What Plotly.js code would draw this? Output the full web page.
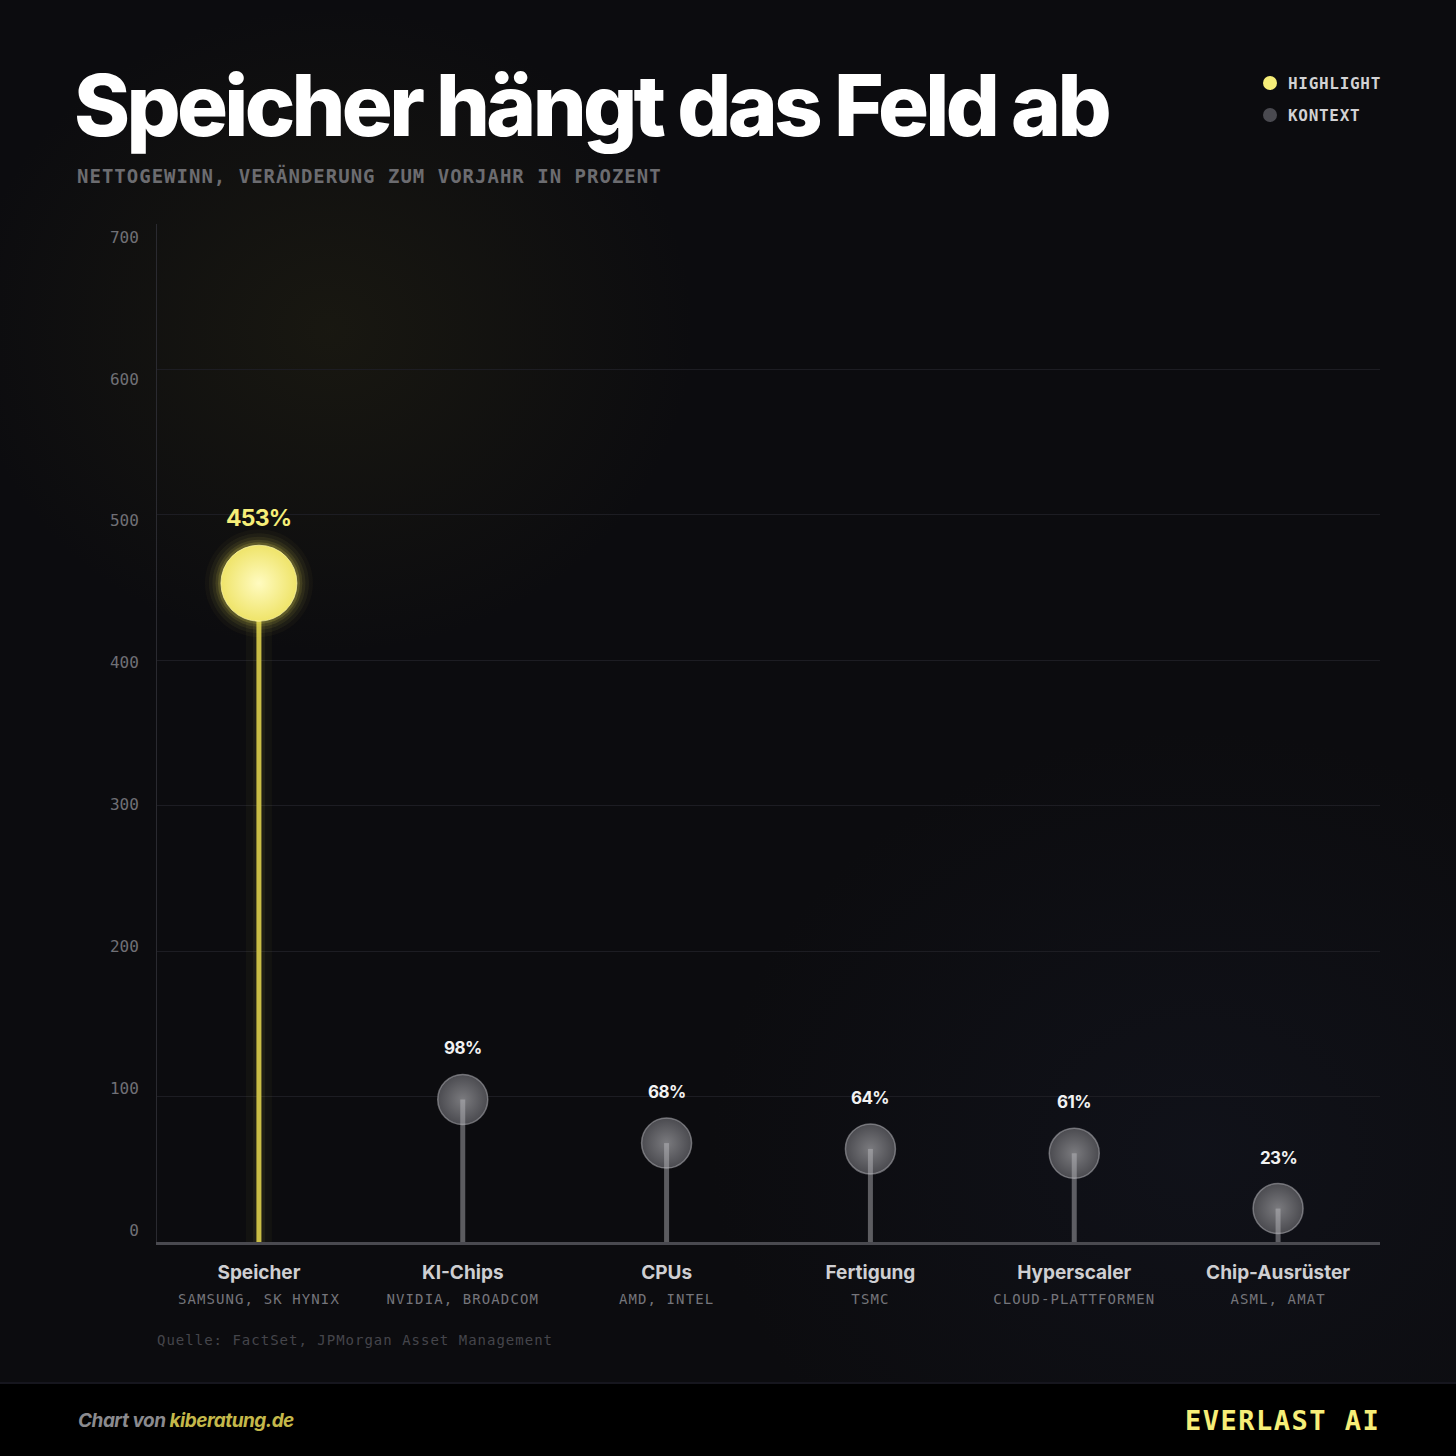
<!DOCTYPE html>
<html>
<head>
<meta charset="utf-8">
<script src="https://cdn.plot.ly/plotly-3.0.1.min.js"></script>
<style>
  html, body { margin: 0; padding: 0; }
  body {
    width: 1456px; height: 1456px; overflow: hidden;
    background:
      radial-gradient(ellipse 520px 460px at 330px 330px, rgba(60,56,22,0.26), rgba(0,0,0,0) 70%),
      radial-gradient(ellipse 700px 600px at 1200px 1150px, rgba(24,28,44,0.35), rgba(0,0,0,0) 70%),
      #0c0c0f;
  }
  #chart { width: 1456px; height: 1456px; }
</style>
</head>
<body>
<div id="chart"></div>
<script>
// ---- data ----
const categories = ['Speicher', 'KI-Chips', 'CPUs', 'Fertigung', 'Hyperscaler', 'Chip-Ausrüster'];
const companies  = ['SAMSUNG, SK HYNIX', 'NVIDIA, BROADCOM', 'AMD, INTEL', 'TSMC', 'CLOUD-PLATTFORMEN', 'ASML, AMAT'];
const values     = [453, 98, 68, 64, 61, 23];
const highlight  = [true, false, false, false, false, false];
const yTicks     = [0, 100, 200, 300, 400, 500, 600, 700];
const titleText    = 'Speicher hängt das Feld ab';
const subtitleText = 'NETTOGEWINN, VERÄNDERUNG ZUM VORJAHR IN PROZENT';
const sourceText   = 'Quelle: FactSet, JPMorgan Asset Management';
const legendLabels = ['HIGHLIGHT', 'KONTEXT'];

// ---- layout geometry helpers (page pixels -> paper coords) ----
const W = 1456, H = 1456;
const M = { l: 157, r: 76, t: 224, b: 214 };
const PW = W - M.l - M.r, PH = H - M.t - M.b;
const px = x => (x - M.l) / PW;
const py = y => (H - M.b - y) / PH;

const YEL = '#f6ee78';
const MONO = 'DejaVu Sans Mono, Liberation Mono, monospace';
const SANS = 'Inter, Roboto, Noto Sans, sans-serif';

// split data
const hiX = [], hiY = [], loX = [], loY = [];
categories.forEach((c, i) => {
  if (highlight[i]) { hiX.push(c); hiY.push(values[i]); }
  else { loX.push(c); loY.push(values[i]); }
});
function stems(xs, ys) {
  const sx = [], sy = [];
  xs.forEach((x, i) => { sx.push(x, x, null); sy.push(0, ys[i], null); });
  return { sx, sy };
}
const hiS = stems(hiX, hiY), loS = stems(loX, loY);

const traces = [];
// yellow stem glow + stem
traces.push({ x: hiS.sx, y: hiS.sy, mode: 'lines', line: { color: 'rgba(230,220,80,0.035)', width: 26 }, hoverinfo: 'skip', showlegend: false });
traces.push({ x: hiS.sx, y: hiS.sy, mode: 'lines', line: { color: 'rgba(230,220,80,0.06)', width: 12 }, hoverinfo: 'skip', showlegend: false });
traces.push({ x: hiS.sx, y: hiS.sy, mode: 'lines', line: { color: '#c9bd45', width: 5 }, hoverinfo: 'skip', showlegend: false });
// yellow glow halos
[[108, 0.03], [100, 0.05], [93, 0.07], [87, 0.10], [82, 0.16]].forEach(([s, o]) => {
  traces.push({ x: hiX, y: hiY, mode: 'markers', marker: { size: s, color: `rgba(245,232,90,${o})`, line: { width: 0 } }, hoverinfo: 'skip', showlegend: false });
});
// yellow bubble
traces.push({ x: hiX, y: hiY, mode: 'markers', name: 'Highlight',
  marker: { size: 76, color: '#efe46a', gradient: { type: 'radial', color: '#fffbc0' }, line: { color: 'rgba(255,250,170,0.7)', width: 1 } },
  hovertemplate: '%{x}: %{y}%<extra></extra>', showlegend: false });
// grey bubbles
traces.push({ x: loX, y: loY, mode: 'markers', name: 'Kontext',
  marker: { size: 50, color: '#4b4b50', gradient: { type: 'radial', color: '#7a7a7e' }, line: { color: 'rgba(175,175,180,0.55)', width: 1.5 } },
  hovertemplate: '%{x}: %{y}%<extra></extra>', showlegend: false });
// grey stems on top
traces.push({ x: loS.sx, y: loS.sy, mode: 'lines', line: { color: 'rgba(190,190,195,0.45)', width: 5 }, hoverinfo: 'skip', showlegend: false });
// invisible trace carrying the tick-label axis
traces.push({ x: categories, y: values, yaxis: 'y2', mode: 'markers', marker: { opacity: 0, size: 1 }, hoverinfo: 'skip', showlegend: false });

// tick text for categories
const tickText = categories.map((c, i) =>
  `<b>${c}</b><br><span style="font-family:${MONO};font-size:14px;font-weight:400;fill:#75757b;letter-spacing:1.1px">${companies[i]}</span>`);

const annotations = [];
// value labels
categories.forEach((c, i) => {
  const hi = highlight[i];
  annotations.push({
    x: c, y: values[i], xref: 'x', yref: 'y', showarrow: false,
    text: `<b><span style="letter-spacing:${hi ? -0.8 : -0.6}px">${values[i]}%</span></b>`, yanchor: 'middle', yshift: hi ? 65 : 51,
    font: { family: SANS, size: hi ? 23 : 17, color: hi ? YEL : '#f2f2f2' }
  });
});
// subtitle
annotations.push({ x: px(75), y: py(175), xref: 'paper', yref: 'paper', xanchor: 'left', yanchor: 'middle', showarrow: false,
  text: `<span style="letter-spacing:1px">${subtitleText}</span>`, font: { family: MONO, size: 19, color: '#6c6c70', weight: 600 } });
// legend texts
legendLabels.forEach((t, i) => {
  annotations.push({ x: px(1286), y: py(83 + 32 * i), xref: 'paper', yref: 'paper', xanchor: 'left', yanchor: 'middle', showarrow: false,
    text: `<span style="letter-spacing:0.7px">${t}</span>`, font: { family: MONO, size: 16, color: '#d2d2d4', weight: 700 } });
});
// source
annotations.push({ x: px(155), y: py(1340), xref: 'paper', yref: 'paper', xanchor: 'left', yanchor: 'middle', showarrow: false,
  text: `<span style="letter-spacing:1px">${sourceText}</span>`, font: { family: MONO, size: 14, color: '#45454b' } });
// footer
annotations.push({ x: px(76), y: py(1420), xref: 'paper', yref: 'paper', xanchor: 'left', yanchor: 'middle', showarrow: false,
  text: `<i><b><span style="letter-spacing:-0.5px">Chart von </span><span style="fill:#c4b84a;letter-spacing:-0.5px">kiberatung.de</span></b></i>`,
  font: { family: SANS, size: 19, color: '#8a8a8e' } });
annotations.push({ x: px(1382), y: py(1420), xref: 'paper', yref: 'paper', xanchor: 'right', yanchor: 'middle', showarrow: false,
  text: `<span style="letter-spacing:1.5px">EVERLAST AI</span>`, font: { family: MONO, size: 27, color: YEL, weight: 700 } });

const shapes = [
  // footer band
  { type: 'rect', xref: 'paper', yref: 'paper', x0: px(0), x1: px(W), y0: py(1383), y1: py(H), fillcolor: '#000000', line: { width: 0 }, layer: 'below' },
  { type: 'line', xref: 'paper', yref: 'paper', x0: px(0), x1: px(W), y0: py(1383), y1: py(1383), line: { color: '#16161e', width: 2 }, layer: 'below' },
  // legend dots
  { type: 'circle', xref: 'paper', yref: 'paper', x0: px(1263), x1: px(1277), y0: py(76), y1: py(90), fillcolor: YEL, line: { width: 0 } },
  { type: 'circle', xref: 'paper', yref: 'paper', x0: px(1263), x1: px(1277), y0: py(108), y1: py(122), fillcolor: '#4a4a50', line: { width: 0 } }
];

const layout = {
  width: W, height: H,
  margin: M,
  paper_bgcolor: 'rgba(0,0,0,0)',
  plot_bgcolor: 'rgba(0,0,0,0)',
  showlegend: false,
  title: {
    text: `<span style="letter-spacing:-3.7px">${titleText}</span>`,
    font: { family: SANS, size: 85, color: '#ffffff', weight: 800 },
    xref: 'container', yref: 'container', x: 74 / W, xanchor: 'left', y: 1 - 106 / H, yanchor: 'middle'
  },
  xaxis: {
    type: 'category', categoryorder: 'array', categoryarray: categories, range: [-0.5, categories.length - 0.5],
    tickmode: 'array', tickvals: categories, ticktext: tickText,
    showgrid: false, zeroline: false, showline: true, linecolor: '#4a4a50', linewidth: 3,
    ticks: 'outside', ticklen: 11, tickcolor: 'rgba(0,0,0,0)',
    tickfont: { family: SANS, size: 19, color: '#cfcfd2' }, fixedrange: true
  },
  yaxis: {
    range: [0, 700], tickmode: 'array', tickvals: yTicks, showticklabels: false,
    showgrid: true, gridcolor: '#1d1d23', gridwidth: 1, zeroline: false,
    showline: true, linecolor: '#2a2a30', linewidth: 1, ticks: '', fixedrange: true
  },
  yaxis2: {
    overlaying: 'y', side: 'left', range: [-8.46, 709.2], tickmode: 'array', tickvals: yTicks,
    showgrid: false, zeroline: false, showline: false,
    ticks: 'outside', ticklen: 14, tickcolor: 'rgba(0,0,0,0)',
    tickfont: { family: MONO, size: 16, color: '#707076' }, fixedrange: true
  },
  annotations, shapes
};

Plotly.newPlot('chart', traces, layout, { displayModeBar: false, staticPlot: true });
</script>
</body>
</html>
